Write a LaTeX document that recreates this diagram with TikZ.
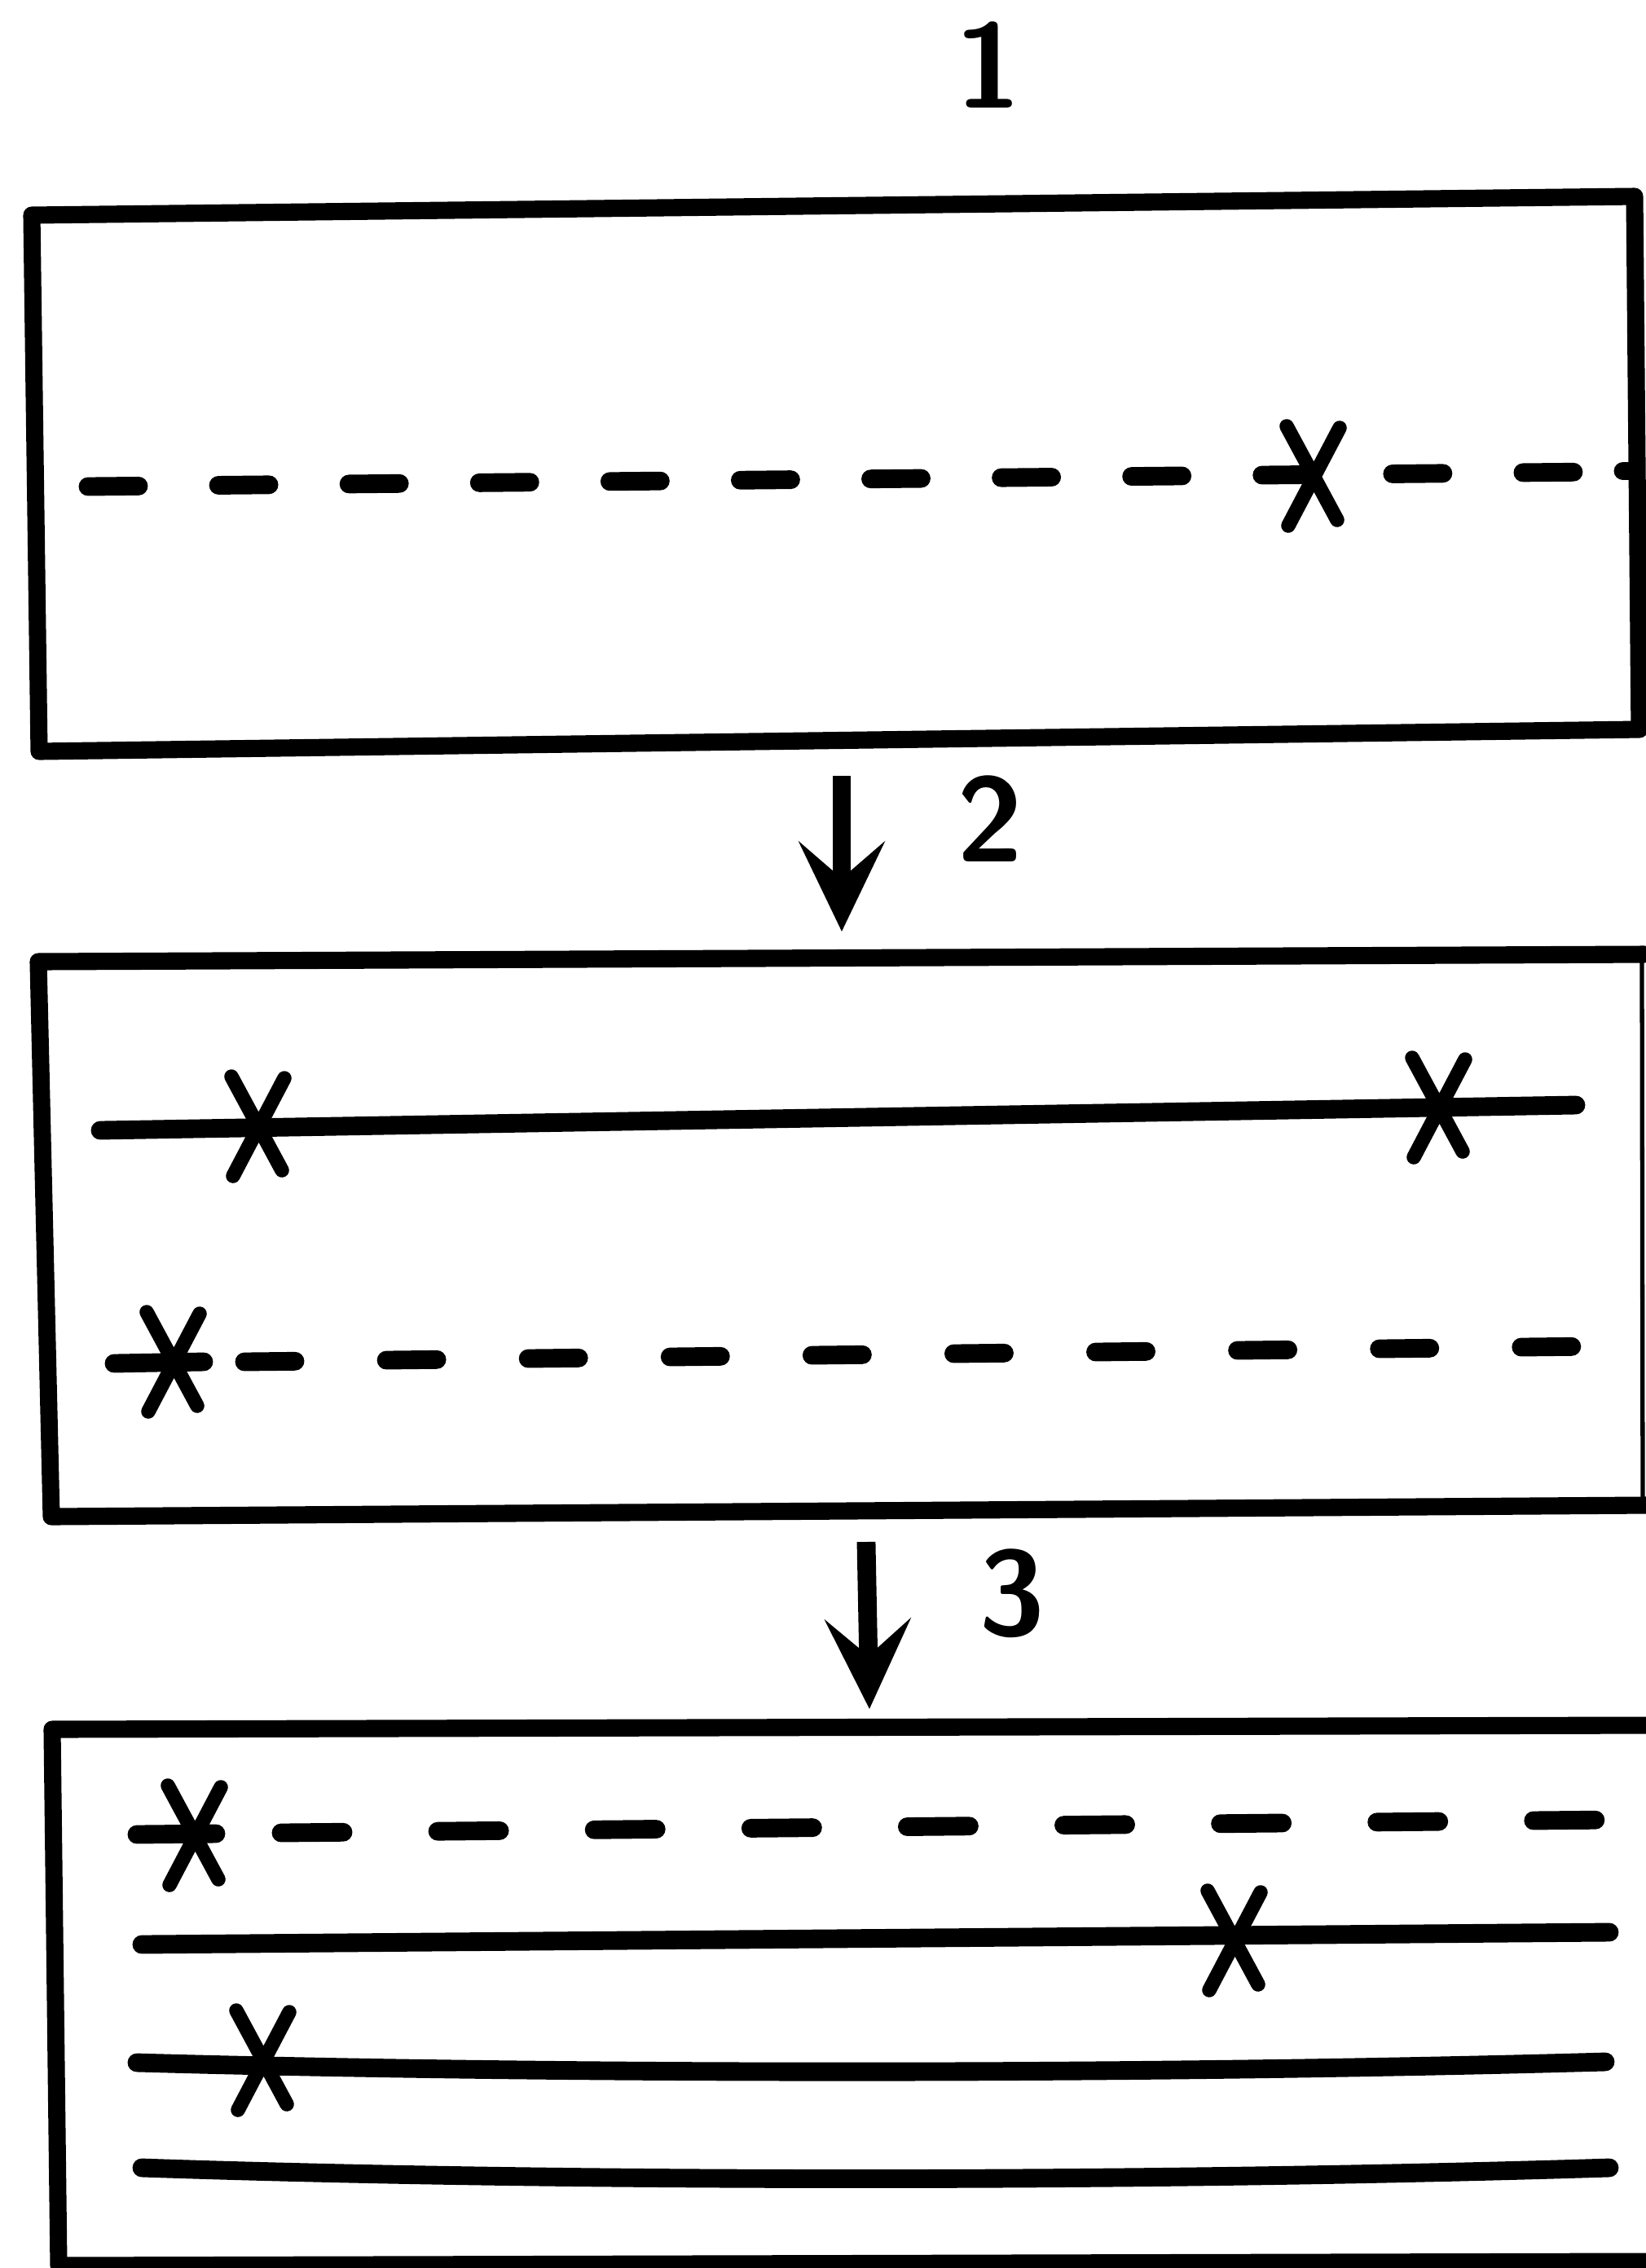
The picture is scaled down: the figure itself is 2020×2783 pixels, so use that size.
\documentclass[tikz,border=0pt]{standalone}
\usetikzlibrary{arrows.meta}
\tikzset{>=Stealth,
  frame/.style={line width=6pt,line join=round,line cap=round},
  fold/.style={line width=6.5pt,line cap=round},
  crease/.style 2 args={fold,dash pattern=on #1 off #2},
  xmark/.style={line width=5pt,line cap=round},
  flow/.style={line width=6.5pt,-{Stealth[length=1.1cm,width=1.05cm,inset=0.45cm]}},
  tag/.style={font=\fontsize{42}{42}\selectfont\sffamily\bfseries,inner sep=0pt}}
\begin{document}
\begin{tikzpicture}[x=0.01cm,y=-0.01cm]
\useasboundingbox (0,0) rectangle (2020,2783);
\node[tag] (n1) at (1213,80) {1};
\draw[frame] (39,264) -- (2006,241) -- (2012,895) -- (48,922) -- cycle;
\draw[crease={0.62cm}{0.98cm}] (108,597) -- (1960,579);
\draw[fold] (1992,578) -- (2004,578);
\coordinate (a2s) at (1033,952);
\coordinate (a2e) at (1033,1143);
\draw[flow] (a2s) -- (a2e);
\node[tag] (n2) at (1215,1005) {2};
\draw[frame] (2018,1171) -- (47,1180) -- (63,1861) -- (2020,1847);
\draw[line width=1.5pt] (2015,1171) -- (2016,1847);
\draw[fold] (123,1387) -- (1934,1356);
\draw[fold] (140,1673) -- (250,1671);
\draw[crease={0.62cm}{1.12cm}] (300,1671) -- (1955,1652);
\coordinate (a3s) at (1063,1892);
\coordinate (a3e) at (1067,2097);
\draw[flow] (a3s) -- (a3e);
\node[tag] (n3) at (1242,1955) {3};
\draw[frame] (2030,2117) -- (64,2122) -- (72,2780) -- (2030,2775);
\draw[fold] (168,2251) -- (265,2250);
\draw[crease={0.76cm}{1.16cm}] (345,2249) -- (1980,2233);
\draw[fold] (174,2386) -- (1975,2371);
\draw[fold] (168,2531) .. controls (700,2546) and (1400,2546) .. (1970,2530);
\draw[fold] (174,2660) .. controls (700,2678) and (1400,2678) .. (1975,2660);
\foreach \x/\y in {1611/583,316/1381,1765/1358,212/1670,238/2251,1514/2380,322/2527}
  \draw[xmark] (\x-32,\y-60) -- (\x+30,\y+55) (\x+33,\y-58) -- (\x-30,\y+62);
\end{tikzpicture}
\end{document}
